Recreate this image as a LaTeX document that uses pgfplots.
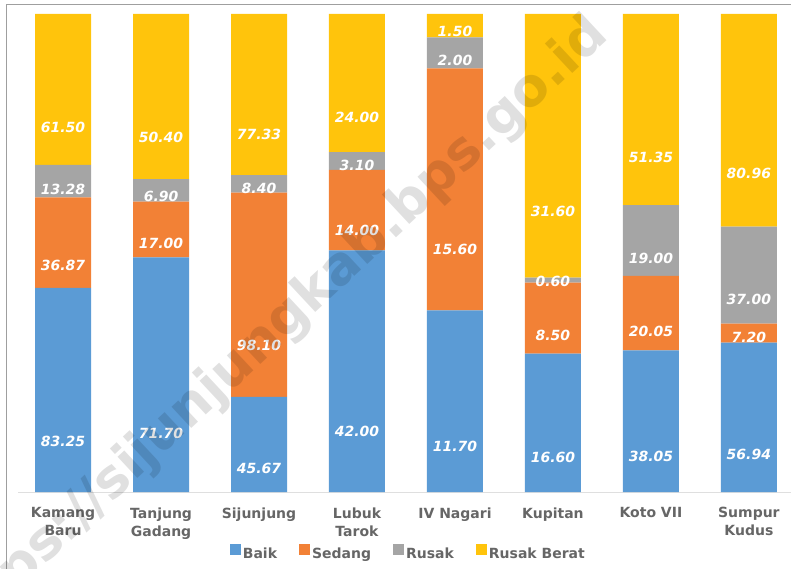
\documentclass[border=0pt]{standalone}
\usepackage{pgfplots}
\usepackage{pgfplotstable}
\pgfplotsset{compat=1.18}
\usepackage{fontspec}
\setmainfont{DejaVu Sans}

\definecolor{cBaik}{HTML}{5B9BD5}
\definecolor{cSedang}{HTML}{F28136}
\definecolor{cRusak}{HTML}{A5A5A5}
\definecolor{cBerat}{HTML}{FFC40C}
\definecolor{lbl}{HTML}{666666}

% p* = share of the column (%), v* = value printed on the segment
\pgfplotstableread{
x pB    pS    pR    pRB   vB    vS    vR    vRB
0 42.71 18.92 6.81  31.56 83.25 36.87 13.28 61.50
1 49.11 11.64 4.73  34.52 71.70 17.00 6.90  50.40
2 19.90 42.75 3.66  33.69 45.67 98.10 8.40  77.33
3 50.54 16.85 3.73  28.88 42.00 14.00 3.10  24.00
4 37.99 50.65 6.49  4.87  11.70 15.60 2.00  1.50
5 28.97 14.83 1.05  55.15 16.60 8.50  0.60  31.60
6 29.62 15.61 14.79 39.98 38.05 20.05 19.00 51.35
7 31.27 3.95  20.32 44.46 56.94 7.20  37.00 80.96
}\datatable

\begin{document}
\begin{tikzpicture}
\path[use as bounding box] (0,0) rectangle (791pt,568pt);
\draw[gray!75, line width=0.8pt] (6pt,-5pt) -- (6pt,564pt) -- (800pt,564pt);

\begin{axis}[
    at={(18pt,76pt)},
    anchor=south west,
    scale only axis,
    width=773pt,
    height=478pt,
    ybar stacked,
    bar width=56pt,
    xmin=-0.46,
    xmax=7.43,
    ymin=0,
    ymax=100,
    axis x line=bottom,
    hide y axis,
    x axis line style={-, draw=gray!25, line width=1pt},
    major tick length=0pt,
    xtick={0,...,7},
    xticklabels={{Kamang\\Baru},{Tanjung\\Gadang},Sijunjung,{Lubuk\\Tarok},{IV Nagari},Kupitan,{Koto VII},{Sumpur\\Kudus}},
    xticklabel style={align=center, text=lbl, font=\bfseries\fontsize{14}{18}\selectfont, yshift=-12pt},
    point meta=explicit,
    nodes near coords={\pgfmathprintnumber[fixed,fixed zerofill,precision=2,assume math mode=true]{\pgfplotspointmeta}},
    every node near coord/.append style={anchor=center, text=white,
        font=\bfseries\itshape\fontsize{14}{14}\selectfont, yshift={-\segh*1.195pt}},
    legend columns=4,
    legend style={at={(0.505,-0.128)}, anchor=center, draw=none, fill=none,
        font=\bfseries\fontsize{14}{16}\selectfont, text=lbl,
        /tikz/every even column/.append style={column sep=20pt}},
    legend image code/.code={\fill[#1] (0pt,-1pt) rectangle (11pt,10pt);},
]
\addplot[fill=cBaik, draw=none, visualization depends on={\thisrow{pB}\as\segh}]
    table[x=x, y=pB, meta=vB] {\datatable};
\addplot[fill=cSedang, draw=none, visualization depends on={\thisrow{pS}\as\segh}]
    table[x=x, y=pS, meta=vS] {\datatable};
\addplot[fill=cRusak, draw=none, visualization depends on={\thisrow{pR}\as\segh}]
    table[x=x, y=pR, meta=vR] {\datatable};
\addplot[fill=cBerat, draw=none, visualization depends on={\thisrow{pRB}\as\segh}]
    table[x=x, y=pRB, meta=vRB] {\datatable};
\legend{Baik, Sedang, Rusak, Rusak Berat}
\end{axis}

\node[rotate=43, anchor=east, text=black, opacity=0.12, font=\bfseries\fontsize{53}{53}\selectfont]
    at (603pt,543pt) {https://sijunjungkab.bps.go.id};
\end{tikzpicture}
\end{document}
